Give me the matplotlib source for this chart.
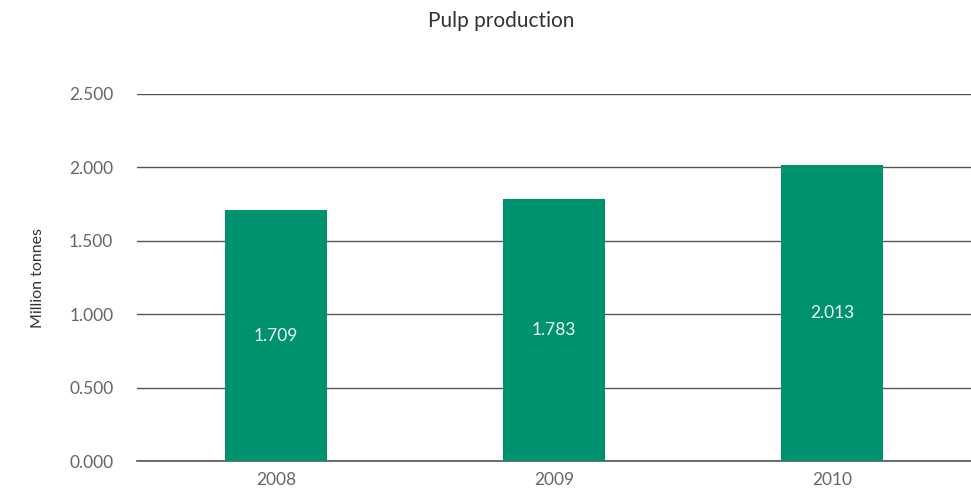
import matplotlib.pyplot as plt
from matplotlib.ticker import FuncFormatter

years = ['2008', '2009', '2010']
production = [1.709, 1.783, 2.013]
yticks = [0.0, 0.5, 1.0, 1.5, 2.0, 2.5]

plt.rcParams['font.family'] = ['Lato', 'DejaVu Sans']

fig = plt.figure(figsize=(9.71, 5.0), dpi=100)
ax = fig.add_axes([0.141, 0.078, 0.859, 0.734])

x = list(range(len(years)))
ax.bar(x, production, width=0.365, color='#00916e', zorder=3)

# Werte mittig in den Balken
for xi, v in zip(x, production):
    ax.text(xi, v / 2, f'{v:.3f}', ha='center', va='center',
            color='#eef8f4', fontsize=12.5, zorder=4)

ax.set_xlim(-0.5, 2.5)
ax.set_ylim(0, 2.5)
ax.set_yticks(yticks)
ax.yaxis.set_major_formatter(FuncFormatter(lambda v, p: f'{v:.3f}'))
ax.set_xticks(x)
ax.set_xticklabels(years)

ax.grid(axis='y', color='#555555', linewidth=1.0, zorder=0)
ax.axhline(0, color='#555555', linewidth=1.2, zorder=2, clip_on=False)
ax.set_axisbelow(True)
for s in ax.spines.values():
    s.set_visible(False)
ax.tick_params(axis='both', length=0, colors='#666666', labelsize=12.5)
ax.tick_params(axis='y', pad=17)
ax.tick_params(axis='x', pad=8)

ax.set_ylabel('Million tonnes', fontsize=11.5, color='#333333', labelpad=17)
fig.text(0.516, 0.958, 'Pulp production', ha='center', va='center',
         fontsize=15, color='#333333')

fig.savefig('out.png', dpi=100)
